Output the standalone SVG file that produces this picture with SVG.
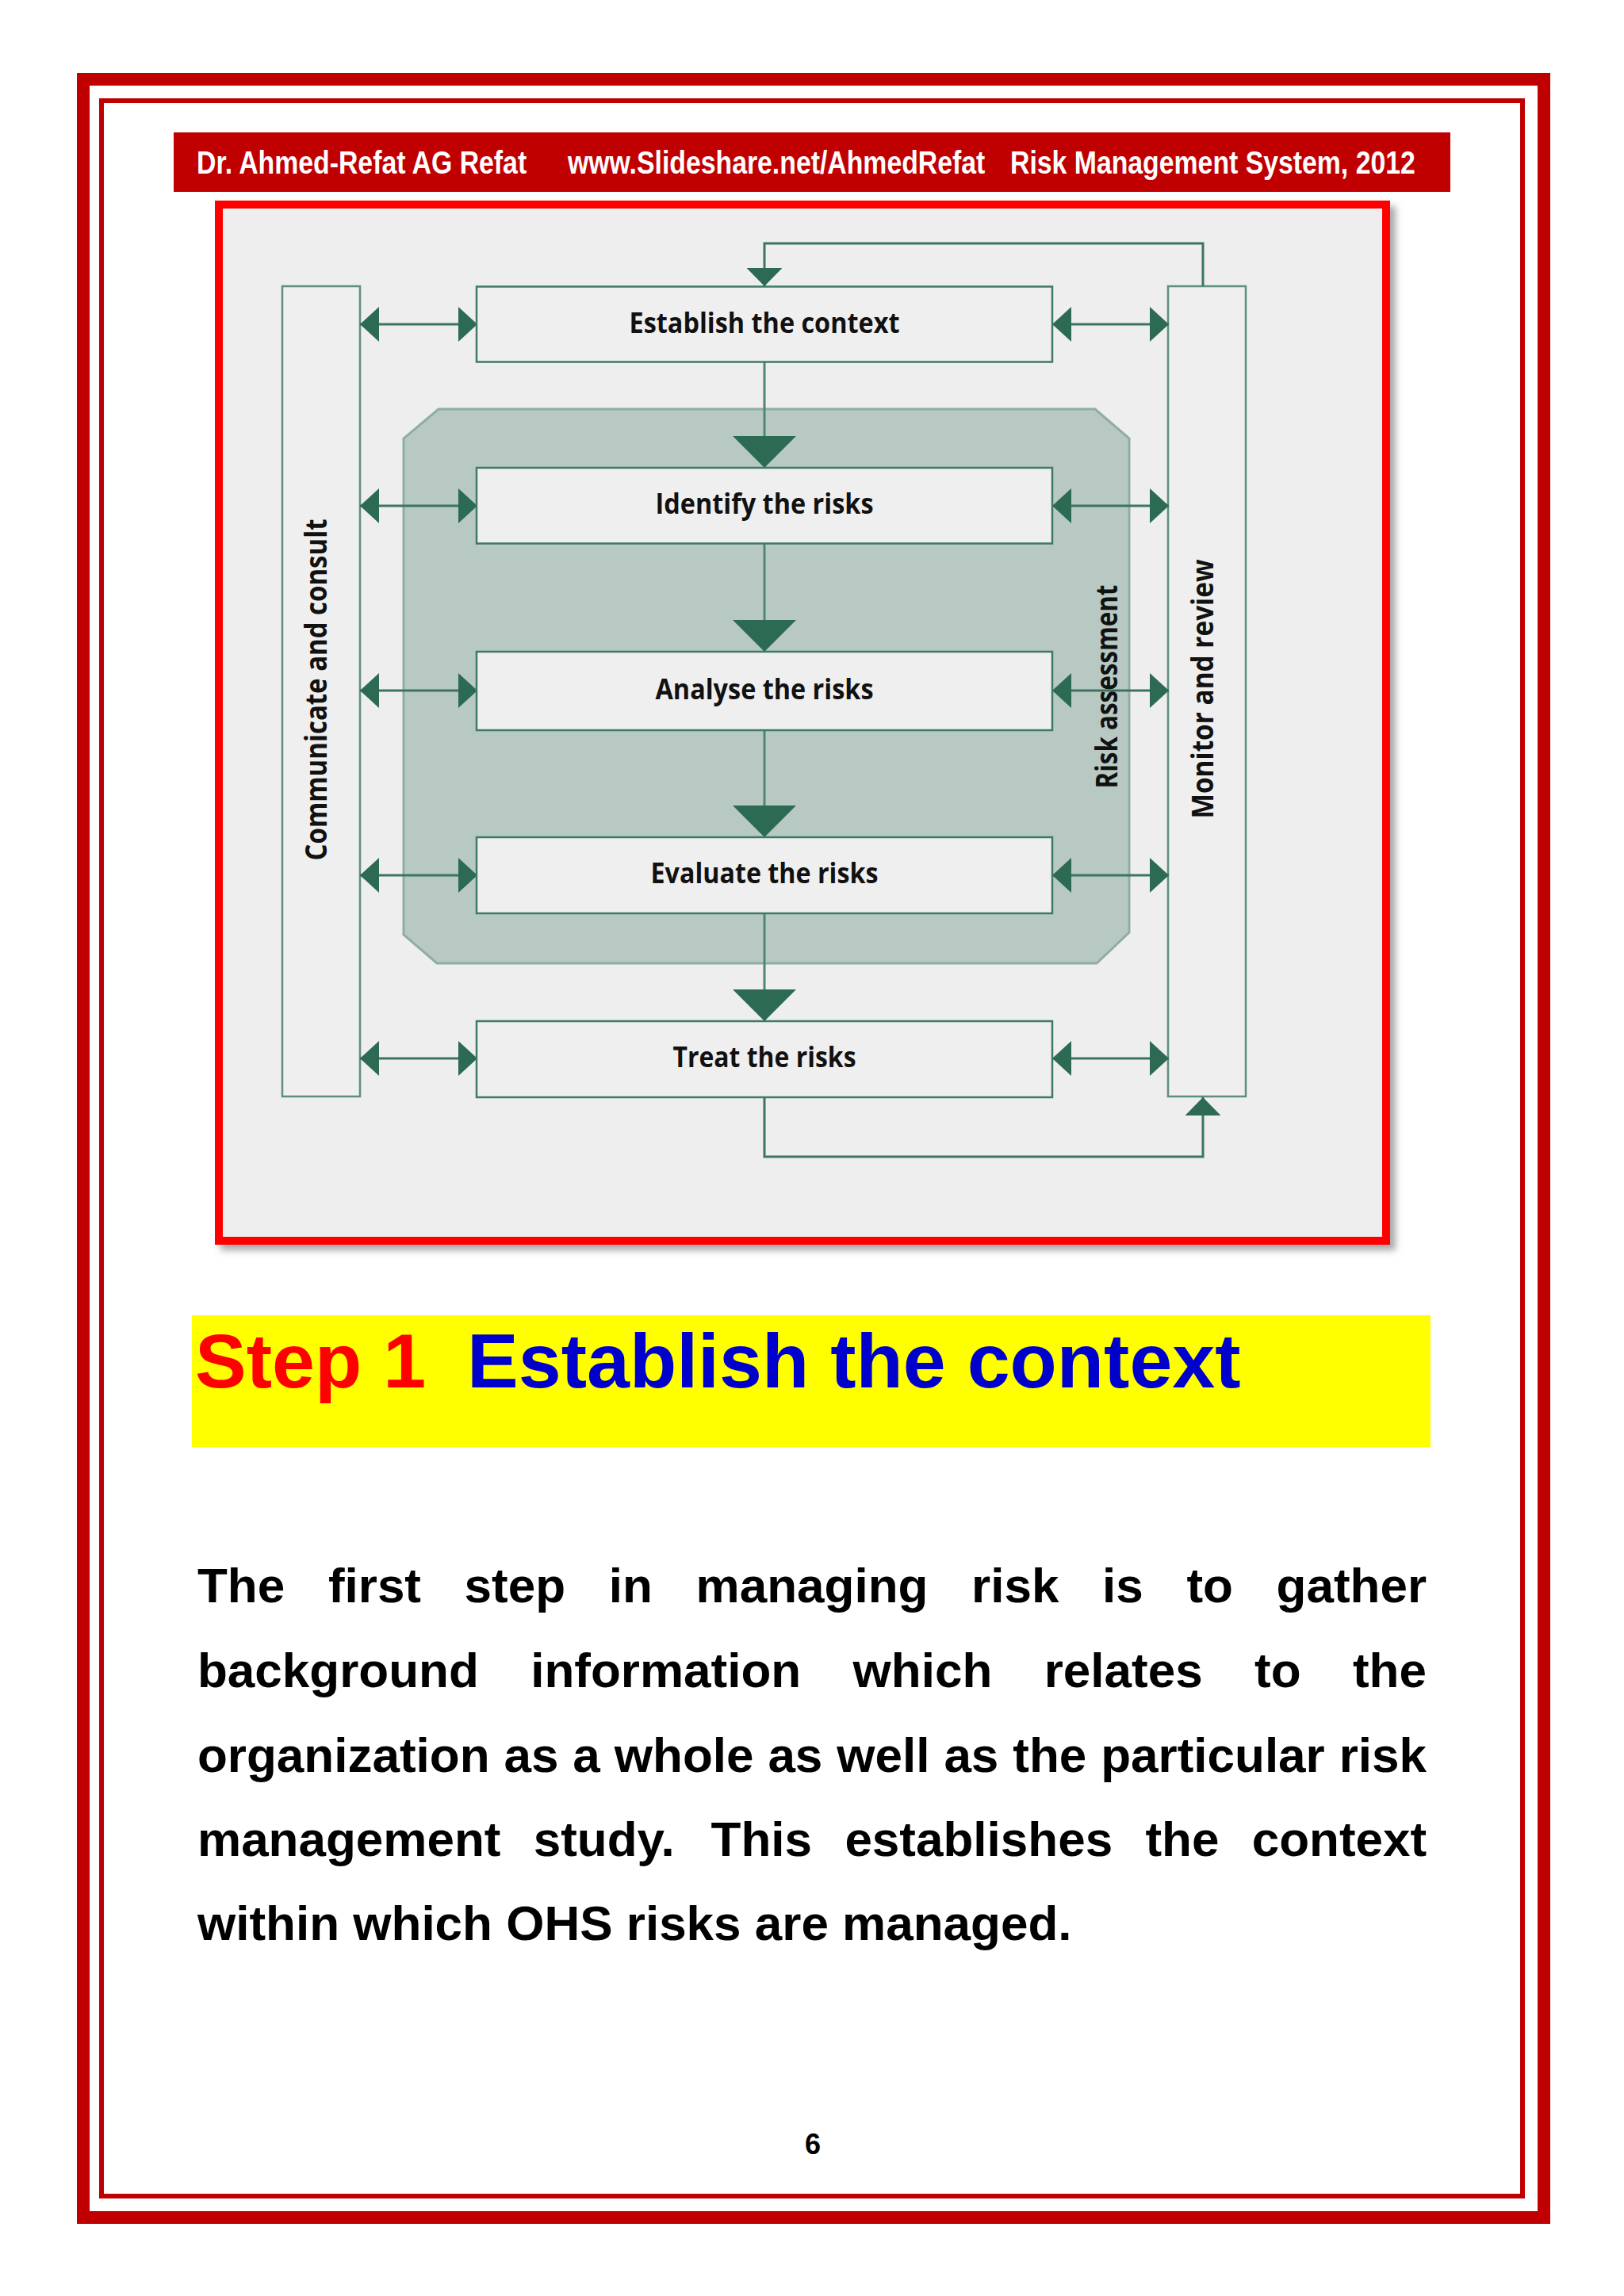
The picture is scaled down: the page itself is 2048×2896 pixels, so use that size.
<svg xmlns="http://www.w3.org/2000/svg" width="2048" height="2896" viewBox="0 0 2048 2896">
<defs>
<style>
.frame-thick{fill:none;stroke:#C00000;stroke-width:16}
.frame-thin{fill:none;stroke:#C00000;stroke-width:6}
.hdr{font-family:"Liberation Sans",Arial,sans-serif;font-weight:bold;font-size:40px;fill:#FFFFFF}
.box{fill:#EFEFEF;stroke:#3F7A66;stroke-width:2.5}
.bar{fill:#EFEFEF;stroke:#5E8F7E;stroke-width:2.5}
.lbl{font-family:"Open Sans","Noto Sans",sans-serif;font-weight:700;font-size:36px;fill:#111111;text-anchor:middle}
.vlbl{font-family:"Open Sans","Noto Sans",sans-serif;font-weight:700;font-size:38px;fill:#111111;text-anchor:middle}
.ln{fill:none;stroke:#3B7561;stroke-width:3}
.vln{fill:none;stroke:#4E8674;stroke-width:3}
.head{fill:#2D6A54}
.body{font-family:"Liberation Sans",Arial,sans-serif;font-weight:bold;font-size:62px;fill:#000000}
.title{font-family:"Liberation Sans",Arial,sans-serif;font-weight:bold;font-size:97px}
</style>
<marker id="dbl" viewBox="0 0 24 44" refX="24" refY="22" markerWidth="24" markerHeight="44" markerUnits="userSpaceOnUse" orient="auto-start-reverse">
<path d="M0,0 L24,22 L0,44 Z" class="head"/>
</marker>
<marker id="big" viewBox="0 0 40 80" refX="40" refY="40" markerWidth="40" markerHeight="80" markerUnits="userSpaceOnUse" orient="auto">
<path d="M0,0 L40,40 L0,80 Z" class="head"/>
</marker>
<marker id="small" viewBox="0 0 23 45" refX="23" refY="22.5" markerWidth="23" markerHeight="45" markerUnits="userSpaceOnUse" orient="auto">
<path d="M0,0 L23,22.5 L0,45 Z" class="head"/>
</marker>
<filter id="shadow" x="-5%" y="-5%" width="110%" height="110%">
<feDropShadow dx="7" dy="7" stdDeviation="4" flood-color="#707070" flood-opacity="0.6"/>
</filter>
</defs>

<rect x="0" y="0" width="2048" height="2896" fill="#FFFFFF"/>

<g id="page-border">
<rect class="frame-thick" x="105" y="100" width="1842" height="2697"/>
<rect class="frame-thin" x="128" y="127" width="1792" height="2643"/>
</g>

<g id="header">
<rect x="219" y="167" width="1610" height="75" fill="#C00000"/>
<text class="hdr" transform="translate(248,219) scale(0.845,1)" x="0" y="0">Dr. Ahmed-Refat AG Refat</text>
<text class="hdr" transform="translate(716,219) scale(0.845,1)" x="0" y="0">www.Slideshare.net/AhmedRefat</text>
<text class="hdr" transform="translate(1274,219) scale(0.845,1)" x="0" y="0">Risk Management System, 2012</text>
</g>

<g id="diagram-frame">
<rect x="276" y="258" width="1472" height="1307" fill="#EEEEEE" stroke="#FF0000" stroke-width="10" filter="url(#shadow)"/>
</g>

<g id="risk-assessment">
<polygon points="553,516 1381,516 1424,553 1424,1176 1383,1215 551,1215 509,1179 509,553" fill="#B7C9C2" stroke="#8FAEA3" stroke-width="3"/>
<text class="vlbl" font-size="36" transform="translate(1409,866) rotate(-90)" textLength="257" lengthAdjust="spacingAndGlyphs">Risk assessment</text>
</g>

<g id="communicate">
<rect class="bar" x="356" y="361" width="98" height="1022"/>
<text class="vlbl" transform="translate(412,870) rotate(-90)" textLength="431" lengthAdjust="spacingAndGlyphs">Communicate and consult</text>
</g>

<g id="monitor">
<rect class="bar" x="1473" y="361" width="98" height="1022"/>
<text class="vlbl" font-size="36" transform="translate(1530,869) rotate(-90)" textLength="327" lengthAdjust="spacingAndGlyphs">Monitor and review</text>
</g>

<g id="connectors">
<path class="vln" d="M964,457 V590" marker-end="url(#big)"/>
<path class="vln" d="M964,686 V822" marker-end="url(#big)"/>
<path class="vln" d="M964,921 V1056" marker-end="url(#big)"/>
<path class="vln" d="M964,1152 V1288" marker-end="url(#big)"/>
<path class="ln" d="M1517,361 V307 H964 V361" marker-end="url(#small)"/>
<path class="ln" d="M964,1384 V1459 H1517 V1384" marker-end="url(#small)"/>
<path class="ln" d="M454,409 H602" marker-start="url(#dbl)" marker-end="url(#dbl)"/>
<path class="ln" d="M454,638 H602" marker-start="url(#dbl)" marker-end="url(#dbl)"/>
<path class="ln" d="M454,871 H602" marker-start="url(#dbl)" marker-end="url(#dbl)"/>
<path class="ln" d="M454,1104 H602" marker-start="url(#dbl)" marker-end="url(#dbl)"/>
<path class="ln" d="M454,1335 H602" marker-start="url(#dbl)" marker-end="url(#dbl)"/>
<path class="ln" d="M1327,409 H1474" marker-start="url(#dbl)" marker-end="url(#dbl)"/>
<path class="ln" d="M1327,638 H1474" marker-start="url(#dbl)" marker-end="url(#dbl)"/>
<path class="ln" d="M1327,871 H1474" marker-start="url(#dbl)" marker-end="url(#dbl)"/>
<path class="ln" d="M1327,1104 H1474" marker-start="url(#dbl)" marker-end="url(#dbl)"/>
<path class="ln" d="M1327,1335 H1474" marker-start="url(#dbl)" marker-end="url(#dbl)"/>
</g>

<g id="establish">
<rect class="box" x="601" y="361.5" width="726" height="95"/>
<text class="lbl" x="964" y="420" textLength="341" lengthAdjust="spacingAndGlyphs">Establish the context</text>
</g>
<g id="identify">
<rect class="box" x="601" y="590" width="726" height="95.5"/>
<text class="lbl" x="964" y="648" textLength="275" lengthAdjust="spacingAndGlyphs">Identify the risks</text>
</g>
<g id="analyse">
<rect class="box" x="601" y="822" width="726" height="99"/>
<text class="lbl" x="964" y="882" textLength="275" lengthAdjust="spacingAndGlyphs">Analyse the risks</text>
</g>
<g id="evaluate">
<rect class="box" x="601" y="1056" width="726" height="96"/>
<text class="lbl" x="964" y="1114" textLength="287" lengthAdjust="spacingAndGlyphs">Evaluate the risks</text>
</g>
<g id="treat">
<rect class="box" x="601" y="1288" width="726" height="96"/>
<text class="lbl" x="964" y="1346" textLength="231" lengthAdjust="spacingAndGlyphs">Treat the risks</text>
</g>

<g id="step-title">
<rect x="242" y="1659" width="1562" height="166" fill="#FFFF00"/>
<text class="title" x="246" y="1750" fill="#FF0000">Step 1</text>
<text class="title" x="589" y="1750" fill="#0000CC">Establish the context</text>
</g>

<g id="body-text" class="body">
<text y="2021"><tspan x="249">The</tspan><tspan x="413.9">first</tspan><tspan x="585.6">step</tspan><tspan x="767.8">in</tspan><tspan x="877.6">managing</tspan><tspan x="1225.1">risk</tspan><tspan x="1390">is</tspan><tspan x="1496.4">to</tspan><tspan x="1609.6">gather</tspan></text>
<text y="2128"><tspan x="249">background</tspan><tspan x="669.2">information</tspan><tspan x="1075.6">which</tspan><tspan x="1316.7">relates</tspan><tspan x="1582">to</tspan><tspan x="1705.9">the</tspan></text>
<text y="2235"><tspan x="249">organization</tspan><tspan x="635.5">as</tspan><tspan x="722.3">a</tspan><tspan x="774.8">whole</tspan><tspan x="968.4">as</tspan><tspan x="1055.3">well</tspan><tspan x="1190.4">as</tspan><tspan x="1277.3">the</tspan><tspan x="1388.2">particular</tspan><tspan x="1688.7">risk</tspan></text>
<text y="2341"><tspan x="249">management</tspan><tspan x="672.7">study.</tspan><tspan x="896.6">This</tspan><tspan x="1065.4">establishes</tspan><tspan x="1444.4">the</tspan><tspan x="1578.7">context</tspan></text>
<text x="249" y="2447">within which OHS risks are managed.</text>
</g>

<g id="page-number">
<text x="1025" y="2717" font-family="Liberation Sans, Arial, sans-serif" font-weight="bold" font-size="36" text-anchor="middle" fill="#000000">6</text>
</g>
</svg>
